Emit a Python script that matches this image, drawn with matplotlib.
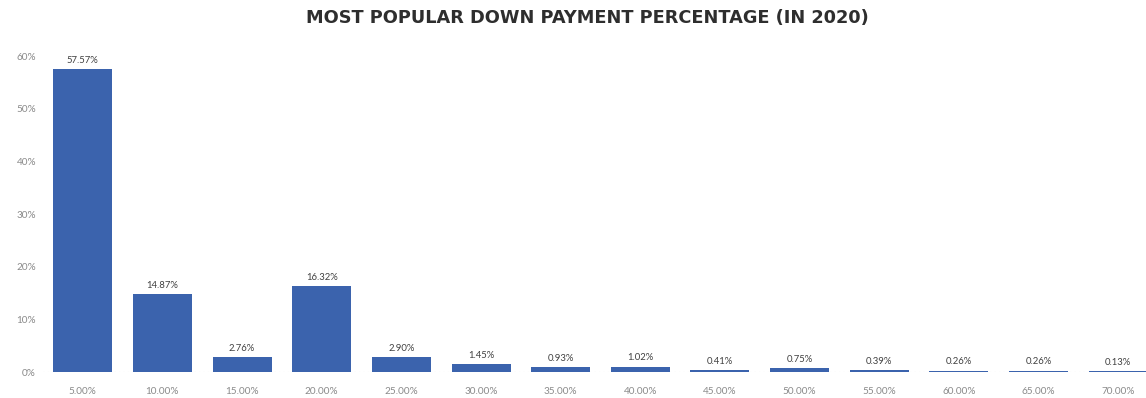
import matplotlib
matplotlib.use("Agg")
import matplotlib.pyplot as plt

categories = ["5.00%", "10.00%", "15.00%", "20.00%", "25.00%", "30.00%", "35.00%",
              "40.00%", "45.00%", "50.00%", "55.00%", "60.00%", "65.00%", "70.00%"]
values = [57.57, 14.87, 2.76, 16.32, 2.90, 1.45, 0.93, 1.02, 0.41, 0.75, 0.39, 0.26, 0.26, 0.13]
value_labels = ["57.57%", "14.87%", "2.76%", "16.32%", "2.90%", "1.45%", "0.93%",
                "1.02%", "0.41%", "0.75%", "0.39%", "0.26%", "0.26%", "0.13%"]
yticks = [0, 10, 20, 30, 40, 50, 60]
ytick_labels = ["0%", "10%", "20%", "30%", "40%", "50%", "60%"]
title = "MOST POPULAR DOWN PAYMENT PERCENTAGE (IN 2020)"

W, H = 1146, 398
fig = plt.figure(figsize=(W / 100, H / 100), dpi=100)
left, right = 43, 1158
bottom, top = 372, 56
ax = fig.add_axes([left / W, 1 - bottom / H, (right - left) / W, (bottom - top) / H])

x = list(range(len(categories)))
bars = ax.bar(x, values, width=0.74, color="#3b63ad")
for xi, v, lab in zip(x, values, value_labels):
    ax.annotate(lab, (xi, v), xytext=(0, 3), textcoords="offset points",
                ha="center", va="bottom", fontsize=6.8, color="#404040", family="Lato")

ax.axhline(0, color="#d0d0d0", lw=0.8, ls=(0, (1, 3)), zorder=0)
ax.set_xlim(-0.5, len(categories) - 0.5)
ax.set_ylim(0, 60)
ax.set_yticks(yticks)
ax.set_yticklabels(ytick_labels)
ax.set_xticks(x)
ax.set_xticklabels(categories)
ax.tick_params(axis="both", length=0, labelsize=7.2, labelcolor="#8a8a8a")
ax.tick_params(axis="x", pad=11)
ax.tick_params(axis="y", pad=5)
for lab in ax.get_xticklabels() + ax.get_yticklabels():
    lab.set_family("Lato")
for s in ax.spines.values():
    s.set_visible(False)

fig.text(587 / W, 1 - 18 / H, title, ha="center", va="center", fontsize=12.8,
         fontweight="bold", color="#2e2e2e", family="DejaVu Sans")

fig.savefig("out.png", dpi=100)
